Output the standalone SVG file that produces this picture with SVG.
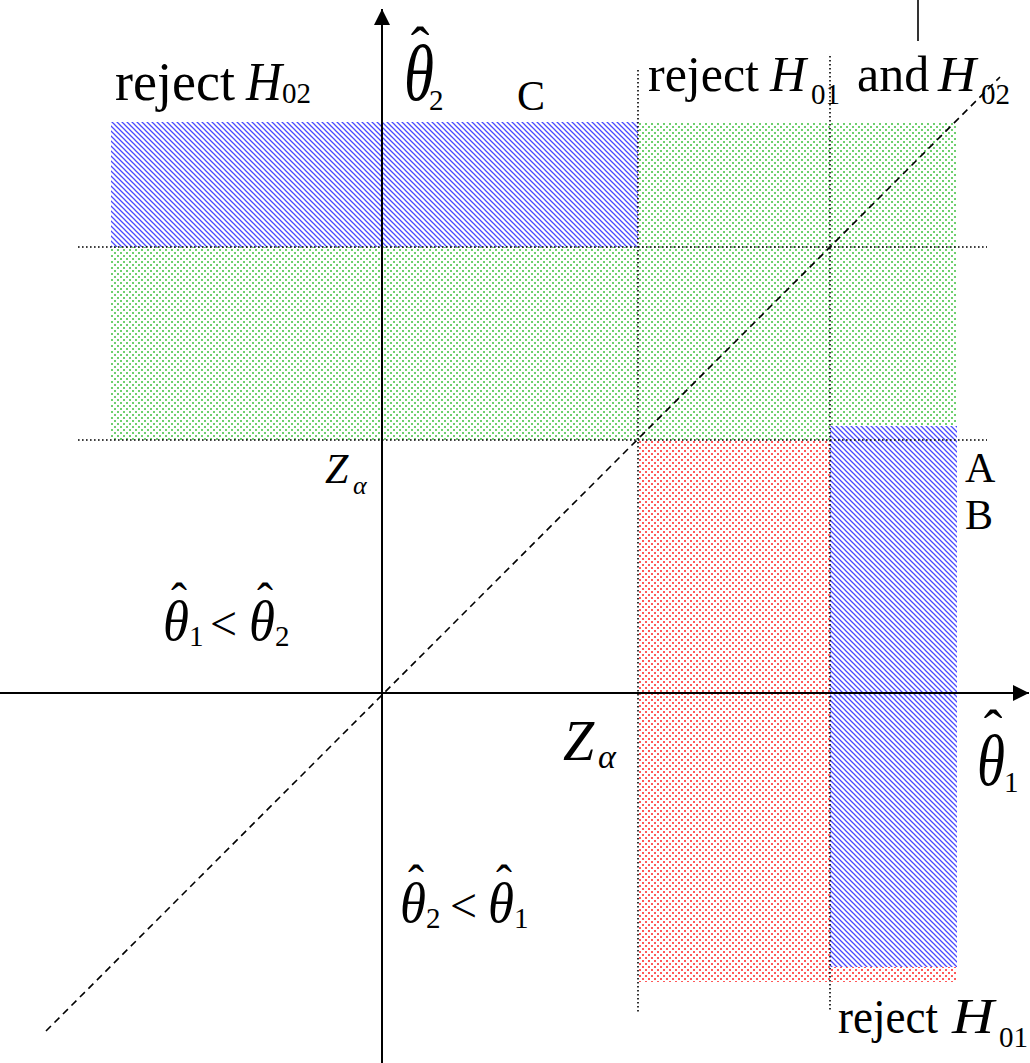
<svg xmlns="http://www.w3.org/2000/svg" width="1030" height="1063" viewBox="0 0 1030 1063">
<style>
text{font-family:"Liberation Serif","Times New Roman",serif;fill:#000}
.it{font-style:italic}
.big{font-size:54px}
.sub{font-size:29px}
.lbl{font-size:42px}
.th{font-style:italic;font-size:64px}
.hat{font-size:56px;text-anchor:middle}
.dot{stroke:#000;stroke-width:1.6;stroke-dasharray:1.6 2.4;fill:none}
.axis{stroke:#000;stroke-width:2;fill:none}
</style>
<defs>
<pattern id="hatch" width="5" height="5" patternUnits="userSpaceOnUse">
<rect width="5" height="5" fill="#fff"/>
<path d="M-1,-1 L6,6 M-1,4 L1,6 M4,-1 L6,1" stroke="#4a4aff" stroke-width="1.25"/>
</pattern>
<pattern id="gdots" width="6" height="6" patternUnits="userSpaceOnUse">
<rect width="6" height="6" fill="#fff"/>
<rect x="0" y="0" width="2" height="2" fill="#6fd06f"/>
<rect x="3" y="3" width="2" height="2" fill="#6fd06f"/>
</pattern>
<pattern id="rdots" width="6" height="6" patternUnits="userSpaceOnUse">
<rect width="6" height="6" fill="#fff"/>
<rect x="0" y="0" width="2" height="2" fill="#ff5a5a"/>
<rect x="3" y="3" width="2" height="2" fill="#ff5a5a"/>
</pattern>
<marker id="arr" viewBox="0 0 10 10" refX="10" refY="5" markerWidth="16" markerHeight="16" markerUnits="userSpaceOnUse" orient="auto">
<path d="M0,0 L10,5 L0,10 z" fill="#000"/>
</marker>
</defs>

<g id="regions">
<rect id="green" x="111" y="122" width="846" height="318" fill="url(#gdots)"/>
<rect id="red" x="638" y="440" width="319" height="542" fill="url(#rdots)"/>
<rect id="blue-top" x="111" y="122" width="527" height="125" fill="url(#hatch)"/>
<rect id="blue-right" x="830" y="426" width="127" height="541" fill="url(#hatch)"/>
</g>

<g id="connectors">
<line class="dot" x1="78" y1="247" x2="987" y2="247"/>
<line class="dot" x1="78" y1="440" x2="987" y2="440"/>
<line class="dot" x1="638" y1="70" x2="638" y2="1013"/>
<line class="dot" x1="830" y1="56" x2="830" y2="1012"/>
<line class="axis" x1="382" y1="1063" x2="382" y2="9" marker-end="url(#arr)"/>
<line class="axis" x1="0" y1="693" x2="1029" y2="693" marker-end="url(#arr)"/>
<line x1="46" y1="1031" x2="1000" y2="77" stroke="#000" stroke-width="1.6" stroke-dasharray="7 5"/>
<line x1="918" y1="0" x2="918" y2="41" stroke="#000" stroke-width="1.6"/>
</g>

<g id="label-reject-h02">
<text class="big" x="115" y="100">reject</text>
<text class="big it" x="246" y="100" textLength="36" lengthAdjust="spacingAndGlyphs">H</text>
<text class="sub" x="282" y="103">02</text>
</g>

<g id="label-theta2-axis">
<text class="hat" x="420" y="66">ˆ</text>
<text class="th" x="404" y="100" style="font-size:80px" textLength="30" lengthAdjust="spacingAndGlyphs">θ</text>
<text class="sub" x="429" y="110">2</text>
</g>

<g id="label-c"><text class="lbl" x="517" y="110">C</text></g>

<g id="label-reject-both">
<text class="big" x="648" y="91" style="font-size:50px">reject</text>
<text class="big it" x="770" y="91" style="font-size:50px" textLength="36" lengthAdjust="spacingAndGlyphs">H</text>
<text class="sub" x="811" y="104">01</text>
<text class="big" x="857" y="91" style="font-size:50px">and</text>
<text class="big it" x="938" y="91" style="font-size:50px" textLength="38" lengthAdjust="spacingAndGlyphs">H</text>
<text class="sub" x="981" y="104">02</text>
</g>

<g id="label-a"><text class="lbl" x="965" y="482">A</text></g>
<g id="label-b"><text class="lbl" x="965" y="529">B</text></g>

<g id="label-zalpha-v">
<text class="lbl it" x="325" y="483">Z</text>
<text class="sub it" x="353" y="494" style="font-size:26px">α</text>
</g>

<g id="label-zalpha-h">
<text class="it" x="563" y="760" style="font-size:56px">Z</text>
<text class="sub it" x="598" y="768" style="font-size:34px">α</text>
</g>

<g id="label-theta1-axis">
<text class="hat" x="993" y="749">ˆ</text>
<text class="th" x="977" y="785" style="font-size:72px" textLength="28" lengthAdjust="spacingAndGlyphs">θ</text>
<text class="sub" x="1004" y="792">1</text>
</g>

<g id="label-t1-lt-t2">
<text class="hat" x="179" y="617" style="font-size:48px">ˆ</text>
<text class="th" x="163" y="640" style="font-size:58px" textLength="26" lengthAdjust="spacingAndGlyphs">θ</text>
<text class="sub" x="189" y="646">1</text>
<text class="big" x="210" y="640" style="font-size:48px">&lt;</text>
<text class="hat" x="265" y="617" style="font-size:48px">ˆ</text>
<text class="th" x="249" y="640" style="font-size:58px" textLength="26" lengthAdjust="spacingAndGlyphs">θ</text>
<text class="sub" x="275" y="646">2</text>
</g>

<g id="label-t2-lt-t1">
<text class="hat" x="416" y="899" style="font-size:48px">ˆ</text>
<text class="th" x="400" y="922" style="font-size:58px" textLength="26" lengthAdjust="spacingAndGlyphs">θ</text>
<text class="sub" x="426" y="928">2</text>
<text class="big" x="450" y="922" style="font-size:48px">&lt;</text>
<text class="hat" x="504" y="899" style="font-size:48px">ˆ</text>
<text class="th" x="488" y="922" style="font-size:58px" textLength="26" lengthAdjust="spacingAndGlyphs">θ</text>
<text class="sub" x="514" y="928">1</text>
</g>

<g id="label-reject-h01">
<text class="big" x="838" y="1033" style="font-size:48px" textLength="100" lengthAdjust="spacingAndGlyphs">reject</text>
<text class="big it" x="952" y="1033" style="font-size:50px" textLength="42" lengthAdjust="spacingAndGlyphs">H</text>
<text class="sub" x="999" y="1047">01</text>
</g>
</svg>
